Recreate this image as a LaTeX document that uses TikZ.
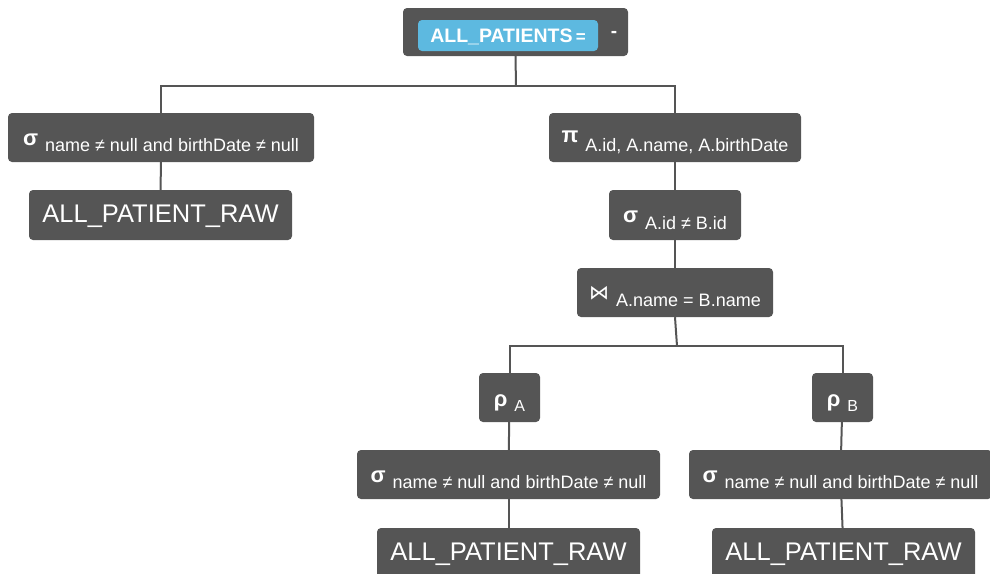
\documentclass[tikz,border=0pt]{standalone}
\usepackage{fontspec}
\setmainfont{Liberation Sans}
\newfontfamily\symfont{DejaVu Sans}
\definecolor{boxgray}{HTML}{555555}
\definecolor{relblue}{HTML}{5DB9E0}
% operator symbol (raised by #1) followed by a subscript condition of size #3
\newcommand{\relop}[4][0pt]{\raisebox{#1}{\bfseries\fontsize{22}{22}\selectfont #2}\hspace{7pt}\raisebox{-6.5pt}{\fontsize{#3}{#3}\selectfont #4}}
\newcommand{\notequal}{≠}
\begin{document}
\begin{tikzpicture}[x=1pt,y=-1pt,
  opbox/.style={fill=boxgray, rounded corners=4pt, text=white, inner sep=0pt,
                text height=15pt, text depth=0pt, minimum height=49pt},
  tablebox/.style={fill=boxgray, rounded corners=4pt, text=white, inner sep=0pt,
                text height=14pt, text depth=0pt, minimum height=50pt, minimum width=263pt,
                font=\fontsize{25.5}{25.5}\selectfont},
  link/.style={draw=boxgray, line width=2pt}]
\useasboundingbox (0,0) rectangle (990,573);

% root: assignment
\node[fill=boxgray, rounded corners=4pt, inner sep=0pt, minimum width=225pt, minimum height=48pt] (root) at (515.5,32) {};
\node[fill=relblue, rounded corners=4pt, inner sep=0pt, minimum width=180pt, minimum height=31pt,
      text=white, text height=13pt, text depth=0pt, font=\bfseries\fontsize{19.5}{19.5}\selectfont] (target) at (508,35.5) {ALL\_PATIENTS\,{\fontsize{17}{17}\selectfont =}};
\node[text=white, inner sep=0pt, font=\bfseries\fontsize{19}{19}\selectfont] (minus) at (614,34) {-};

% left operand
\node[opbox, minimum width=306pt] (sigL) at (161,137.5) {\relop{σ}{18}{name \notequal{} null and birthDate \notequal{} null}};
\node[tablebox] (rawL) at (160.5,215) {ALL\_PATIENT\_RAW};

% right operand
\node[opbox, minimum width=252pt] (proj) at (675,137.5) {\relop[3pt]{π}{18}{A.id, A.name, A.birthDate}};
\node[opbox, minimum width=132pt, minimum height=50pt] (sigAB) at (675,215) {\relop{σ}{18}{A.id \notequal{} B.id}};
\node[opbox, minimum width=196pt] (join) at (675,292.5) {\relop[1pt]{\symfont\mdseries\fontsize{20}{20}\selectfont ⋈}{18}{A.name = B.name}};

\node[opbox, minimum width=61pt] (rhoA) at (509.5,397.5) {\relop[-1pt]{ρ}{16}{A}};
\node[opbox, minimum width=303pt] (sigM) at (508.5,474.5) {\relop{σ}{18}{name \notequal{} null and birthDate \notequal{} null}};
\node[tablebox] (rawM) at (508.5,553) {ALL\_PATIENT\_RAW};

\node[opbox, minimum width=61pt] (rhoB) at (842.5,397.5) {\relop[-1pt]{ρ}{16}{B}};
\node[opbox, minimum width=303pt] (sigR) at (840.5,474.5) {\relop{σ}{18}{name \notequal{} null and birthDate \notequal{} null}};
\node[tablebox] (rawR) at (843.5,553) {ALL\_PATIENT\_RAW};

% connectors
\coordinate (fork1) at (516,86);
\coordinate (fork2) at (677,346);
\draw[link] (root.south) -- (fork1);
\draw[link] (sigL.north) |- (fork1) -| (proj.north);
\draw[link] (sigL) -- (rawL);
\draw[link] (proj) -- (sigAB);
\draw[link] (sigAB) -- (join);
\draw[link] (join.south) -- (fork2);
\draw[link] (rhoA.north) |- (fork2) -| (rhoB.north);
\draw[link] (rhoA) -- (sigM);
\draw[link] (sigM) -- (rawM);
\draw[link] (rhoB) -- (sigR);
\draw[link] (sigR) -- (rawR);
\end{tikzpicture}
\end{document}
